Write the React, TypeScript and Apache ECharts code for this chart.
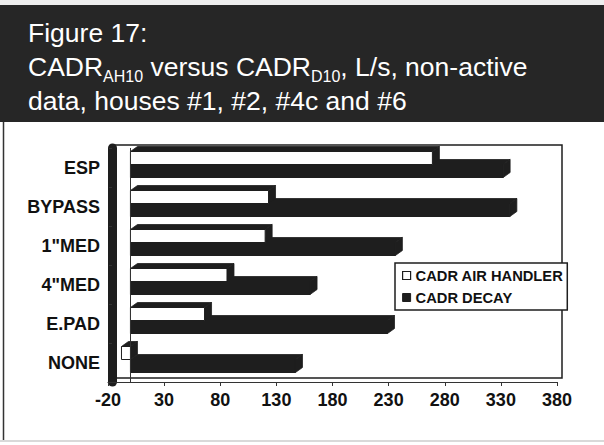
import React, { useEffect, useRef } from "react";
import * as echarts from "echarts";

const categories = ["ESP", "BYPASS", '1"MED', '4"MED', "E.PAD", "NONE"];
const airHandler = [269, 123, 120, 86, 66, -8];
const decay = [332, 338, 236, 160, 229, 147];
const xTicks = [-20, 30, 80, 130, 180, 230, 280, 330, 380];
const seriesNames = ["CADR AIR HANDLER", "CADR DECAY"];

const FONT = "'Liberation Sans', Arial, Helvetica, sans-serif";
const DARK = "#1e1e1e";

function makeRender(upper: boolean, front: string) {
  return (params: any, api: any) => {
    const cat = api.value(0);
    const v = api.value(1);
    const p0 = api.coord([0, cat]);
    const p1 = api.coord([v, cat]);
    const cy = p0[1];
    const h = 13;
    const yTop = upper ? cy - 3 - h : cy - 3;
    const yBot = yTop + h;
    const xL = Math.min(p0[0], p1[0]);
    const xR = Math.max(p0[0], p1[0]);
    const dx = 7;
    const dy = 5;
    return {
      type: "group",
      children: [
        {
          type: "polygon",
          shape: {
            points: [
              [xL, yTop],
              [xR, yTop],
              [xR + dx, yTop - dy],
              [xL + dx, yTop - dy],
            ],
          },
          style: { fill: DARK, stroke: DARK, lineWidth: 0.8 },
        },
        {
          type: "polygon",
          shape: {
            points: [
              [xR, yTop],
              [xR + dx, yTop - dy],
              [xR + dx, yBot - dy],
              [xR, yBot],
            ],
          },
          style: { fill: DARK, stroke: DARK, lineWidth: 0.8 },
        },
        {
          type: "rect",
          shape: { x: xL, y: yTop, width: xR - xL, height: yBot - yTop },
          style: { fill: front, stroke: DARK, lineWidth: 1 },
        },
      ],
    };
  };
}

export default function App() {
  const ref = useRef<HTMLDivElement>(null);
  useEffect(() => {
    if (!ref.current) return;
    const chart = echarts.init(ref.current, undefined, { renderer: "svg" });
    const option: any = {
      animation: false,
      backgroundColor: "#fff",
      textStyle: { fontFamily: FONT },
      graphic: [
        {
          type: "rect",
          z: 0,
          shape: { x: 0, y: 0, width: 604, height: 5 },
          style: { fill: "#eeeeee" },
        },
        {
          type: "rect",
          z: 0,
          shape: { x: 0, y: 5, width: 604, height: 117 },
          style: { fill: "#262626" },
        },
        {
          type: "line",
          z: 0,
          shape: { x1: 3.5, y1: 122, x2: 3.5, y2: 440 },
          style: { stroke: "#333", lineWidth: 1.5 },
        },
        {
          type: "line",
          z: 0,
          shape: { x1: 0, y1: 441, x2: 604, y2: 441 },
          style: { stroke: "#cccccc", lineWidth: 1.5 },
        },
      ],
      title: {
        left: 28,
        top: 16,
        padding: 0,
        text:
          "Figure 17:\nCADR{s|AH10} versus CADR{s|D10}, L/s, non-active\ndata, houses #1, #2, #4c and #6",
        textStyle: {
          color: "#ffffff",
          fontSize: 26.5,
          fontWeight: "normal",
          lineHeight: 34,
          fontFamily: FONT,
          rich: {
            s: {
              color: "#ffffff",
              fontSize: 16,
              lineHeight: 22,
              verticalAlign: "bottom",
              fontFamily: FONT,
            },
          },
        },
      },
      legend: {
        orient: "vertical",
        left: 395,
        top: 263,
        padding: [5, 4, 5, 7],
        backgroundColor: "#ffffff",
        borderColor: DARK,
        borderWidth: 1.5,
        itemWidth: 8,
        itemHeight: 8,
        itemGap: 7,
        selectedMode: false,
        textStyle: {
          color: "#111",
          fontSize: 14.7,
          fontWeight: "bold",
          fontFamily: FONT,
        },
        data: [
          {
            name: seriesNames[0],
            icon: "rect",
            itemStyle: { color: "#ffffff", borderColor: DARK, borderWidth: 1.2 },
          },
          {
            name: seriesNames[1],
            icon: "rect",
            itemStyle: { color: DARK, borderColor: DARK, borderWidth: 1 },
          },
        ],
      },
      grid: [
        { left: 108, right: 47, top: 148, bottom: 63 },
        {
          left: 113,
          right: 42,
          top: 145,
          bottom: 67,
          show: true,
          borderColor: DARK,
          borderWidth: 1.5,
          backgroundColor: "transparent",
        },
      ],
      xAxis: [
        {
          type: "value",
          gridIndex: 0,
          min: -20,
          max: 380,
          splitLine: { show: false },
          axisLine: { show: true, onZero: false, lineStyle: { color: "#333", width: 1.2 } },
          axisTick: {
            show: true,
            length: 4,
            customValues: xTicks,
            lineStyle: { color: "#333" },
          },
          axisLabel: {
            customValues: xTicks,
            margin: 9,
            color: "#111",
            fontSize: 18,
            fontWeight: "bold",
            fontFamily: FONT,
          },
        },
        { type: "value", gridIndex: 1, show: false, min: -20, max: 380 },
      ],
      yAxis: [
        {
          type: "category",
          gridIndex: 0,
          inverse: true,
          data: categories,
          offset: -4,
          axisLine: { show: true, onZero: false, lineStyle: { color: DARK, width: 9 } },
          axisTick: { show: true, length: 3, lineStyle: { color: "#333" } },
          axisLabel: {
            margin: 12,
            color: "#111",
            fontSize: 18,
            fontWeight: "bold",
            fontFamily: FONT,
          },
          splitLine: { show: false },
        },
        { type: "category", gridIndex: 1, show: false, data: categories },
      ],
      series: [
        {
          type: "custom",
          name: seriesNames[1],
          xAxisIndex: 0,
          yAxisIndex: 0,
          itemStyle: { color: DARK },
          encode: { x: 1, y: 0 },
          data: categories.map((c, i) => [c, decay[i]]),
          renderItem: makeRender(false, DARK),
          markLine: {
            silent: true,
            symbol: "none",
            label: { show: false },
            lineStyle: { color: "#333", width: 1, type: "solid" },
            data: [{ xAxis: 0 }],
          },
        },
        {
          type: "custom",
          name: seriesNames[0],
          xAxisIndex: 0,
          yAxisIndex: 0,
          itemStyle: { color: "#ffffff", borderColor: DARK },
          encode: { x: 1, y: 0 },
          data: categories.map((c, i) => [c, airHandler[i]]),
          renderItem: makeRender(true, "#ffffff"),
        },
      ],
    };
    chart.setOption(option);
    return () => chart.dispose();
  }, []);
  return (
    <div
      ref={ref}
      style={{ position: "absolute", left: 0, top: 0, width: 604, height: 445 }}
    />
  );
}
